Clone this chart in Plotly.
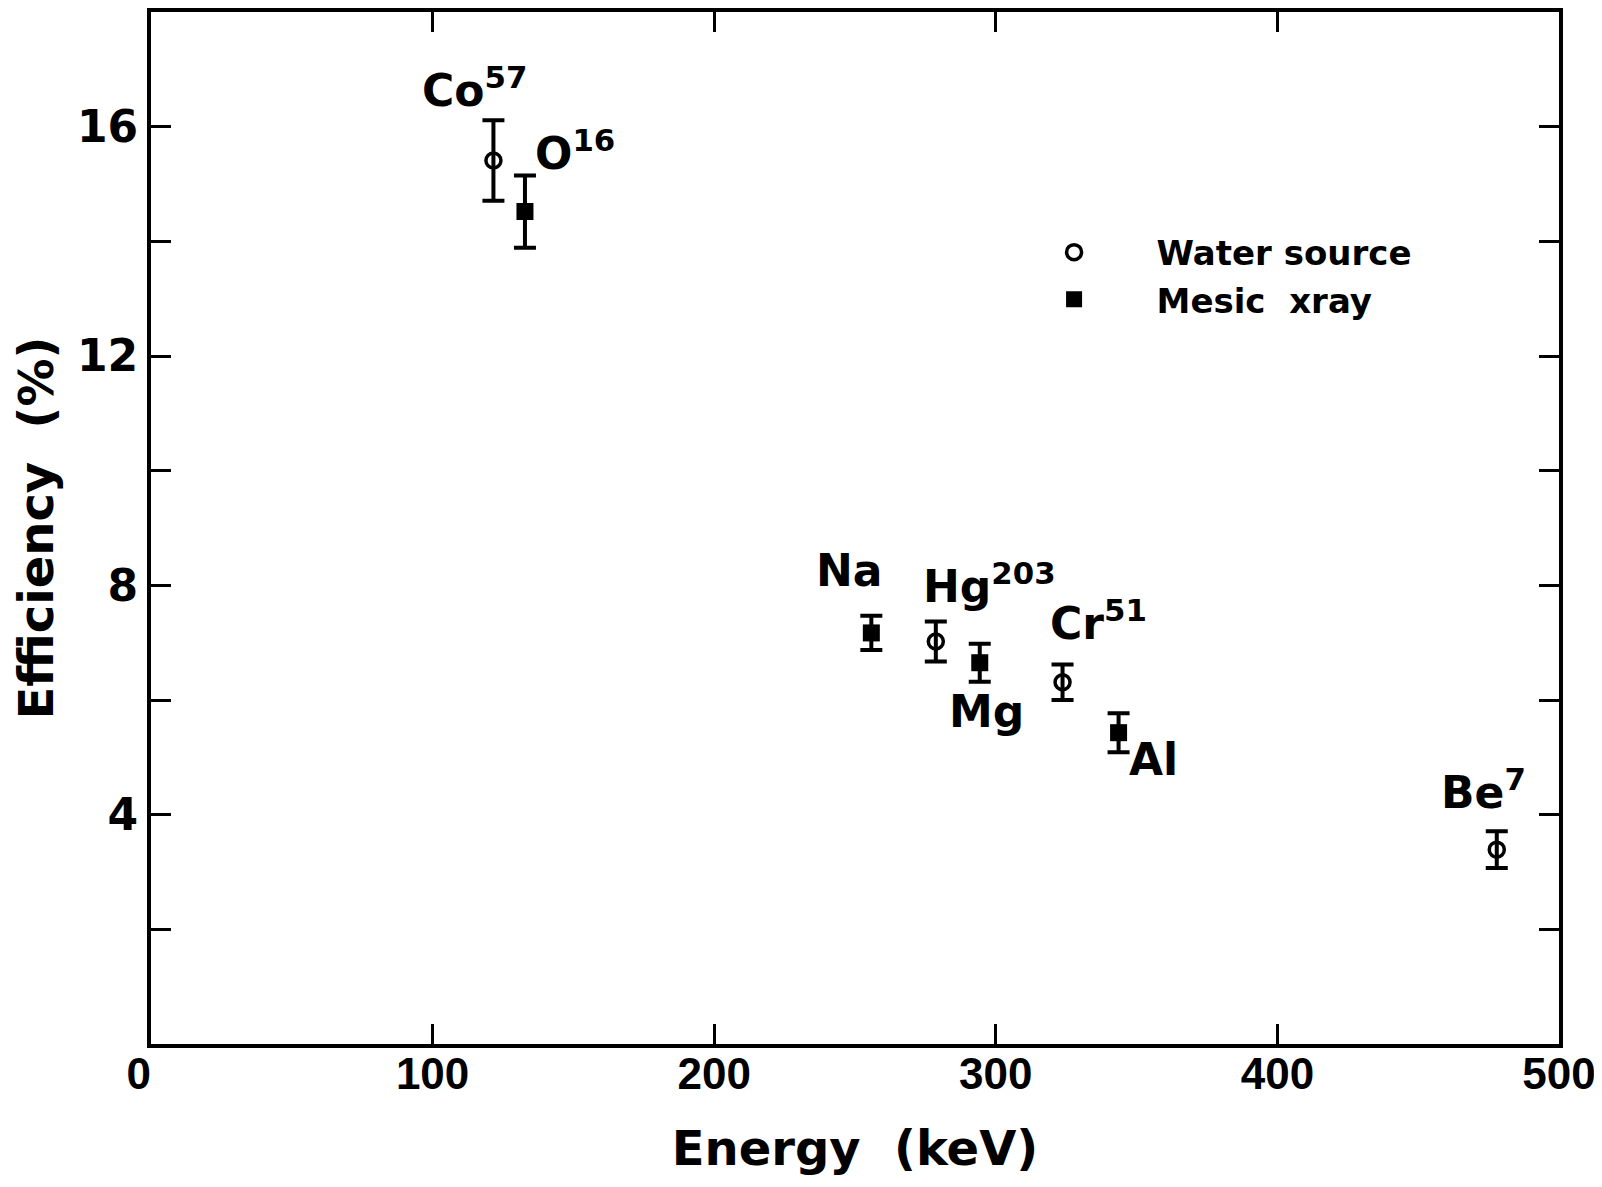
import plotly.graph_objects as go

# ---- data ----
water_names = ["Co57", "Hg203", "Cr51", "Be7"]
water_energy = [121.6, 278.7, 323.7, 477.9]
water_eff = [15.41, 7.02, 6.31, 3.39]
water_err = [0.70, 0.35, 0.31, 0.32]

mesic_names = ["O16", "Na", "Mg", "Al"]
mesic_energy = [132.8, 255.8, 294.3, 343.6]
mesic_eff = [14.52, 7.17, 6.65, 5.43]
mesic_err = [0.63, 0.30, 0.33, 0.34]

label_texts = ["Co<sup>57</sup>", "O<sup>16</sup>", "Na", "Hg<sup>203</sup>",
               "Mg", "Cr<sup>51</sup>", "Al", "Be<sup>7</sup>"]
label_x = [95.5, 135.5, 235.3, 273.4, 282.8, 318.5, 346.5, 457.5]
label_y = [16.15, 15.05, 7.78, 7.5, 6.28, 6.85, 5.45, 3.9]
label_anchor = ["bottom", "bottom", "bottom", "bottom", "top", "bottom", "top", "bottom"]

x_ticks = [0, 100, 200, 300, 400, 500]
x_ticktext = ["0\u00a0\u00a0", "100", "200", "300", "400", "500"]
y_ticks = [0, 2, 4, 6, 8, 10, 12, 14, 16, 18]
y_ticktext = ["", "", "4", "", "8", "", "12", "", "16", ""]

FONT = "DejaVu Sans"

fig = go.Figure()
fig.add_trace(go.Scatter(
    x=water_energy, y=water_eff, mode="markers", name="Water source",
    marker=dict(symbol="circle-open", size=15, color="black", line=dict(width=3.5, color="black")),
    error_y=dict(type="data", array=water_err, visible=True, color="black", thickness=4, width=11),
))
fig.add_trace(go.Scatter(
    x=mesic_energy, y=mesic_eff, mode="markers", name="Mesic  xray",
    marker=dict(symbol="square", size=17, color="black"),
    error_y=dict(type="data", array=mesic_err, visible=True, color="black", thickness=4, width=11),
))

for t, x, y, a in zip(label_texts, label_x, label_y, label_anchor):
    fig.add_annotation(x=x, y=y, text=t, showarrow=False, xanchor="left", yanchor=a,
                       font=dict(family=FONT, size=44, color="black", weight="bold"))

axis_common = dict(showline=True, linewidth=4, linecolor="black", mirror="ticks",
                   ticks="inside", ticklen=20, tickwidth=3, tickcolor="black",
                   showgrid=False, zeroline=False, automargin=False,
                   ticklabeloverflow="allow")

fig.update_xaxes(range=[0, 500], tickvals=x_ticks, ticktext=x_ticktext,
                 tickfont=dict(family="Liberation Sans", size=44, color="black", weight="bold"),
                 ticklabelstandoff=-12,
                 title=dict(text="Energy  (keV)", font=dict(family=FONT, size=48, color="black", weight="bold"),
                            standoff=36),
                 **axis_common)
fig.update_yaxes(range=[0, 18], tickvals=y_ticks, ticktext=y_ticktext,
                 tickfont=dict(family=FONT, size=44, color="black", weight="bold"),
                 title=dict(text="Efficiency  (%)", font=dict(family=FONT, size=48, color="black", weight="bold"),
                            standoff=25),
                 **axis_common)

fig.update_layout(
    width=1594, height=1179,
    margin=dict(l=143, r=43, t=4, b=143),
    paper_bgcolor="white", plot_bgcolor="white",
    showlegend=True,
    legend=dict(x=0.597, y=0.795, xanchor="left", yanchor="top",
                font=dict(family=FONT, size=34, color="black", weight="bold"),
                itemwidth=155, bgcolor="rgba(0,0,0,0)", tracegroupgap=0),
)

fig.write_html("out.html")
